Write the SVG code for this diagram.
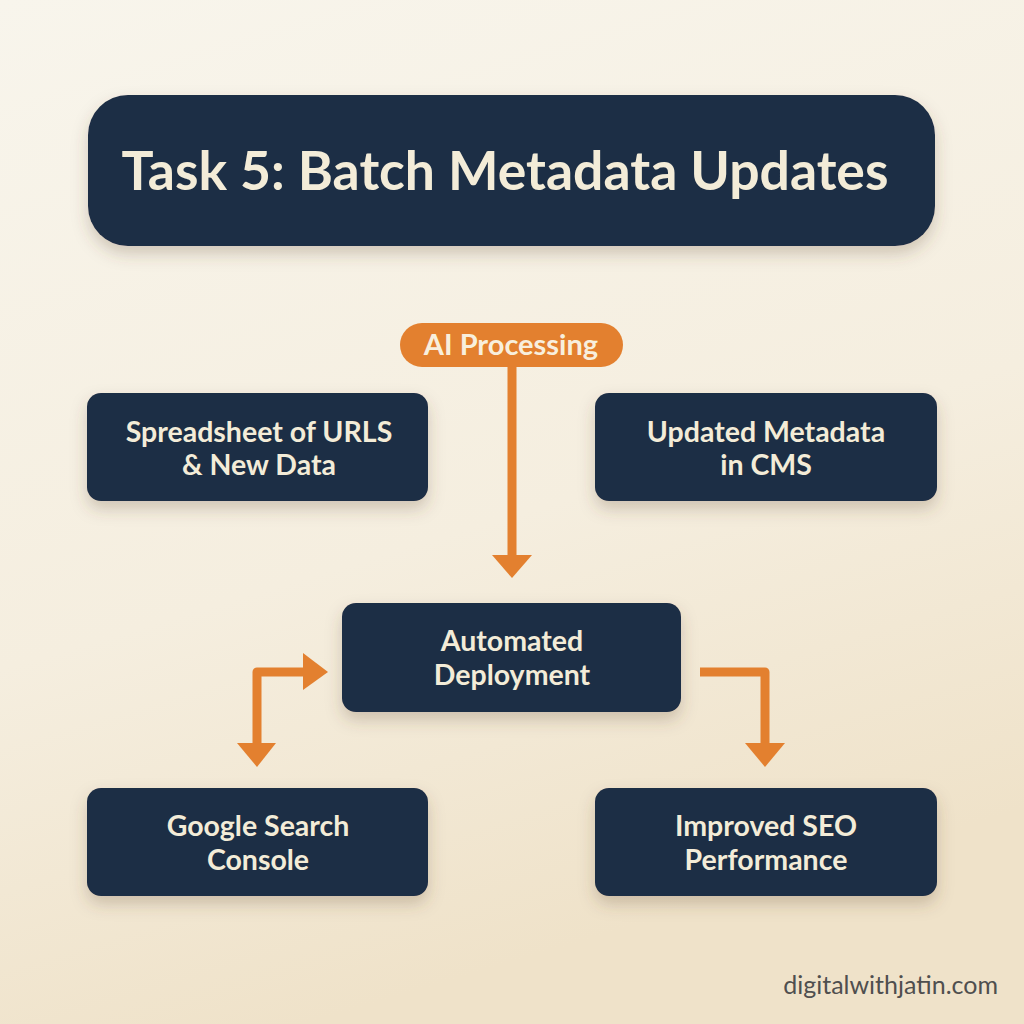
<svg xmlns="http://www.w3.org/2000/svg" width="1024" height="1024" viewBox="0 0 1024 1024">
<defs>
<linearGradient id="bg" x1="0" y1="0" x2="0.3" y2="1">
<stop offset="0" stop-color="#f8f5ec"/>
<stop offset="0.6" stop-color="#f5eedf"/>
<stop offset="1" stop-color="#efe2c9"/>
</linearGradient>
<filter id="sh" x="-10%" y="-20%" width="120%" height="150%">
<feDropShadow dx="0" dy="8" stdDeviation="8" flood-color="#5a4a30" flood-opacity="0.25"/>
</filter>
<style>
.box{fill:#1e2d45;filter:url(#sh)}
.lbl{font-family:Lato,"Liberation Sans",sans-serif;font-weight:bold;font-size:28.5px;fill:#f3ecd8;text-anchor:middle}
.ln{fill:none;stroke:#e3802f;stroke-width:9}
.ah{fill:#e3802f}
</style>
</defs>
<rect width="1024" height="1024" fill="url(#bg)"/>
<g id="title">
<rect class="box" x="88" y="95" width="847" height="151" rx="40"/>
<text x="505" y="190" font-family="Lato,'Liberation Sans',sans-serif" font-weight="bold" font-size="53.5" fill="#f3ecd8" text-anchor="middle">Task 5: Batch Metadata Updates</text>
</g>
<g id="ai-processing">
<rect x="400" y="323" width="223" height="44" rx="22" fill="#e3802f"/>
<text x="511" y="355" font-family="Lato,'Liberation Sans',sans-serif" font-weight="bold" font-size="29" fill="#f8efdd" text-anchor="middle">AI Processing</text>
</g>
<g id="spreadsheet">
<rect class="box" x="87" y="393" width="341" height="108" rx="14"/>
<text class="lbl" x="259" y="442">Spreadsheet of URLS</text>
<text class="lbl" x="259" y="475">&amp; New Data</text>
</g>
<g id="updated-metadata">
<rect class="box" x="595" y="393" width="342" height="108" rx="14"/>
<text class="lbl" x="766" y="442">Updated Metadata</text>
<text class="lbl" x="766" y="475">in CMS</text>
</g>
<g id="automated-deployment">
<rect class="box" x="342" y="603" width="339" height="109" rx="14"/>
<text class="lbl" x="512" y="651">Automated</text>
<text class="lbl" x="512" y="685">Deployment</text>
</g>
<g id="google-search-console">
<rect class="box" x="87" y="788" width="341" height="108" rx="14"/>
<text class="lbl" x="258" y="836">Google Search</text>
<text class="lbl" x="258" y="870">Console</text>
</g>
<g id="improved-seo">
<rect class="box" x="595" y="788" width="342" height="108" rx="14"/>
<text class="lbl" x="766" y="836">Improved SEO</text>
<text class="lbl" x="766" y="870">Performance</text>
</g>
<g id="connectors">
<path class="ln" d="M512 367 V558"/>
<polygon class="ah" points="492,555 532,555 512,578"/>
<path class="ln" d="M257 746 V672 H306" stroke-linejoin="round"/>
<polygon class="ah" points="303,653 303,690 328,672"/>
<polygon class="ah" points="237,743 276,743 257,767"/>
<path class="ln" d="M700 672 H765 V746" stroke-linejoin="round"/>
<polygon class="ah" points="745,743 785,743 765,767"/>
</g>
<text x="998" y="994" font-family="Lato,'Liberation Sans',sans-serif" font-size="25" fill="#4f4f4f" text-anchor="end">digitalwithjatin.com</text>
</svg>
